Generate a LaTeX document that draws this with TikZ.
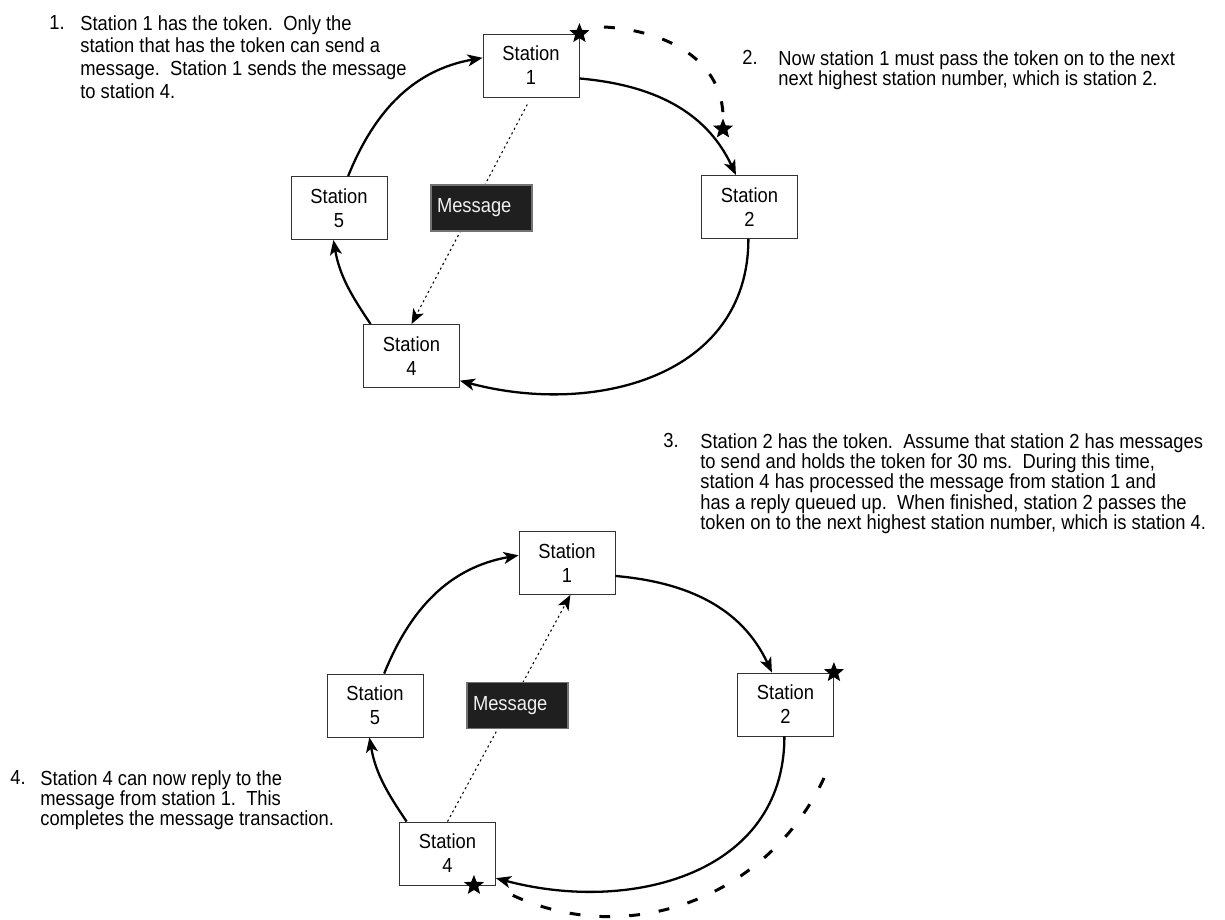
\documentclass[tikz,border=0pt]{standalone}
\usepackage{fontspec}
\setmainfont{Liberation Sans}[FakeStretch=0.9]
\usetikzlibrary{arrows.meta,positioning,calc,shapes.geometric}
\newcommand\notefont[1]{\fontsize{11.6}{#1}\selectfont}

\begin{document}
\begin{tikzpicture}[x=0.02cm, y=0.02cm,
    font=\fontsize{11.6}{13.6}\selectfont,
    station/.style={draw=black!80, line width=0.5pt, fill=white, align=center, inner sep=0pt,
      minimum width=1.92cm, minimum height=1.26cm},
    msgbox/.style={draw=black!55, line width=0.6pt, fill=black!88, text=black!6,
      minimum width=2.02cm, minimum height=0.92cm, text width=1.78cm, inner xsep=0.12cm, align=left},
    ring/.style={line width=1.3pt, -{Stealth[length=0.3cm, width=0.24cm, inset=0.08cm]}},
    msgline/.style={line width=0.6pt, dash pattern=on 1.2pt off 1.8pt,
      -{Stealth[length=0.3cm, width=0.24cm, inset=0.08cm]}},
    token/.style={star, star points=5, star point ratio=2.3, fill=black,
      minimum size=0.42cm, inner sep=0pt},
    tokenpath/.style={line width=1.7pt, dash pattern=on 6.2pt off 10.8pt},
    note/.style={anchor=north west, align=left, inner sep=0pt, font=\notefont{11.6pt}},
  ]
  \useasboundingbox (0,0) rectangle (1225,920);

  % station 1 holds the token and sends to station 4
  \begin{scope}
    \node[station] (t1) at (531,854.5) {Station\\1};
    \node[station] (t2) at (749.5,713) {Station\\2};
    \node[station] (t5) at (339,712) {Station\\5};
    \node[station] (t4) at (411.5,564) {Station\\4};
    \draw[ring] (t1.-15) to[out=-5, in=115] (t2.113);
    \draw[ring] (t2.-92) to[out=-90, in=-15, looseness=1.1] (t4.-27);
    \draw[ring] (t4.142) to[out=124, in=-80] (t5.-100);
    \draw[ring] (t5.74) to[out=68, in=-170] (t1.171);
    \draw[msgline, shorten <=0.16cm] (t1.south) -- (t4.north);
    \node[msgbox] (tm) at (481.5,712) {Message};
    \node[token] (tk1) at (t1.north east) {};
    \node[token] (tk2) at (723,791) {};
    \coordinate (td0) at (604,893);
    \coordinate (td1) at (723,806);
    \draw[tokenpath] (td0) to[out=-3, in=93] (td1);
  \end{scope}

  % station 2 passes the token to station 4, which replies
  \begin{scope}[shift={(36,-497.5)}]
    \node[station] (b1) at (531,854.5) {Station\\1};
    \node[station] (b2) at (749.5,713) {Station\\2};
    \node[station] (b5) at (339,712) {Station\\5};
    \node[station] (b4) at (411.5,564) {Station\\4};
    \draw[ring] (b1.-15) to[out=-5, in=115] (b2.113);
    \draw[ring] (b2.-92) to[out=-90, in=-15, looseness=1.1] (b4.-27);
    \draw[ring] (b4.142) to[out=124, in=-80] (b5.-100);
    \draw[ring] (b5.74) to[out=68, in=-170] (b1.171);
    \draw[msgline] (b4.north) -- (b1.-84);
    \node[msgbox] (bm) at (481.5,712) {Message};
    \node[token] (tk3) at (b2.north east) {};
    \node[token] (tk4) at ([xshift=-0.44cm]b4.south east) {};
    \coordinate (bd0) at (788,639.5);
    \coordinate (bd1) at (476,522.5);
    \draw[tokenpath] (bd0) to[out=-115, in=-25] (bd1);
  \end{scope}

  % the four steps
  \node[note, font=\notefont{13pt}] (note1) at (80,905) {Station 1 has the token.\ \ Only the\\
    station that has the token can send a\\
    message.\ \ Station 1 sends the message\\
    to station 4.};
  \node[note] (num1) at (49,905) {1.};
  \node[note] (note2) at (778,870) {Now station 1 must pass the token on to the next\\
    next highest station number, which is station 2.};
  \node[note] (num2) at (742,870) {2.};
  \node[note] (note3) at (700,487) {Station 2 has the token.\ \ Assume that station 2 has messages\\
    to send and holds the token for 30 ms.\ \ During this time,\\
    station 4 has processed the message from station 1 and\\
    has a reply queued up.\ \ When finished, station 2 passes the\\
    token on to the next highest station number, which is station 4.};
  \node[note] (num3) at (663,487) {3.};
  \node[note] (note4) at (40,150) {Station 4 can now reply to the\\
    message from station 1.\ \ This\\
    completes the message transaction.};
  \node[note] (num4) at (10,150) {4.};
\end{tikzpicture}
\end{document}
